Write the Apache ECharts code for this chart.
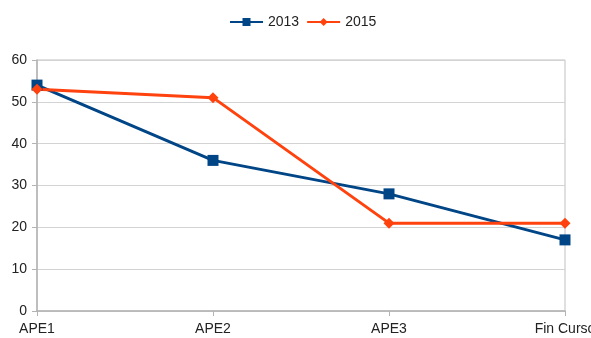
<!DOCTYPE html>
<html>
<head>
<meta charset="utf-8">
<script src="https://cdn.jsdelivr.net/npm/echarts@6/dist/echarts.min.js"></script>
<style>
html,body{margin:0;padding:0;background:#fff;}
#chart{width:591px;height:338px;}
</style>
</head>
<body>
<div id="chart"></div>
<script>
const categories = ['APE1', 'APE2', 'APE3', 'Fin Curso'];
const values2013 = [54, 36, 28, 17];
const values2015 = [53, 51, 21, 21];
const yTicks = { min: 0, max: 60, interval: 10 };

const chart = echarts.init(document.getElementById('chart'));
const font = 'Liberation Sans, Arial, sans-serif';
chart.setOption({
  animation: false,
  textStyle: { fontFamily: font },
  legend: {
    top: 10,
    left: 224,
    itemWidth: 33,
    itemHeight: 10,
    itemGap: 7,
    textStyle: { fontSize: 14, color: '#222', fontFamily: font },
    data: ['2013', '2015']
  },
  grid: {
    left: 37, right: 26, top: 60, bottom: 27,
    outerBoundsMode: 'none',
    containLabel: false,
    show: true, borderColor: '#c0c0c0', borderWidth: 1
  },
  xAxis: {
    type: 'category',
    data: categories,
    boundaryGap: false,
    axisLine: { lineStyle: { color: '#b3b3b3', width: 1.5 } },
    axisTick: { show: true, alignWithLabel: true, length: 5, lineStyle: { color: '#b3b3b3' } },
    axisLabel: { color: '#222', fontSize: 14, margin: 11, fontFamily: font, hideOverlap: false },
    splitLine: { show: false }
  },
  yAxis: {
    type: 'value',
    min: yTicks.min, max: yTicks.max, interval: yTicks.interval,
    axisLine: { show: true, lineStyle: { color: '#b3b3b3', width: 1.5 } },
    axisTick: { show: true, length: 5, lineStyle: { color: '#b3b3b3' } },
    axisLabel: { color: '#222', fontSize: 14, margin: 10, fontFamily: font },
    splitLine: { show: true, lineStyle: { color: '#d3d3d3', width: 1 } }
  },
  series: [
    {
      name: '2013', type: 'line', data: values2013,
      symbol: 'rect', symbolSize: 11,
      lineStyle: { color: '#004586', width: 3 },
      itemStyle: { color: '#004586' }
    },
    {
      name: '2015', type: 'line', data: values2015,
      symbol: 'diamond', symbolSize: 11,
      lineStyle: { color: '#ff420e', width: 3 },
      itemStyle: { color: '#ff420e' }
    }
  ]
});
</script>
</body>
</html>
